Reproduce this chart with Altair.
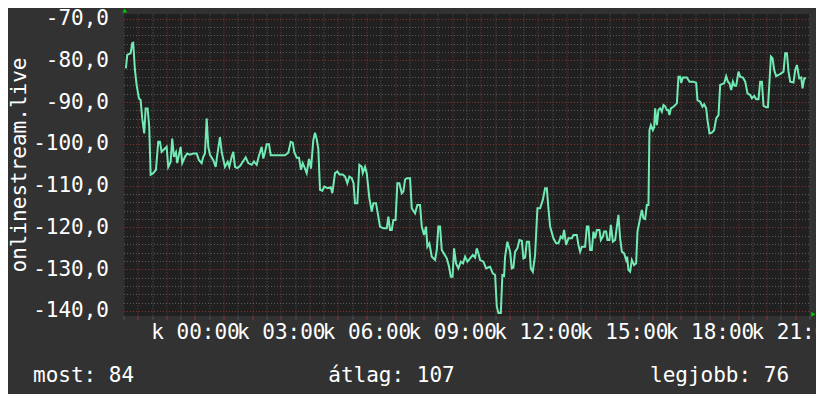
import altair as alt
import pandas as pd

# time of day in hours (00:00 = 0, negative = previous evening)
hours = [
    -2.415, -2.370, -2.251, -2.195, -2.160, -2.100, -2.041, -1.960, -1.901, -1.845,
    -1.775, -1.726, -1.656, -1.600, -1.551, -1.460, -1.365, -1.285, -1.225, -1.166,
    -1.110, -0.991, -0.935, -0.851, -0.795, -0.735, -0.665, -0.620, -0.501, -0.445,
    -0.350, -0.270, -0.175, -0.060, 0.060, 0.140, 0.235, 0.291, 0.350, 0.410,
    0.466, 0.525, 0.641, 0.725, 0.781, 0.875, 0.935, 1.050, 1.145, 1.201,
    1.285, 1.341, 1.400, 1.481, 1.575, 1.691, 1.775, 1.866, 1.985, 2.065,
    2.160, 2.240, 2.335, 2.391, 2.450, 2.510, 2.590, 2.650, 2.741, 2.975,
    3.150, 3.266, 3.350, 3.420, 3.476, 3.560, 3.640, 3.710, 3.770, 3.826,
    3.910, 3.990, 4.060, 4.141, 4.200, 4.260, 4.316, 4.375, 4.456, 4.526,
    4.645, 4.750, 4.806, 4.900, 4.981, 5.051, 5.170, 5.250, 5.331, 5.401,
    5.485, 5.548, 5.600, 5.681, 5.751, 5.835, 5.870, 5.950, 6.010, 6.101,
    6.185, 6.241, 6.335, 6.416, 6.475, 6.591, 6.710, 6.766, 6.825, 6.885,
    6.941, 7.018, 7.081, 7.151, 7.235, 7.291, 7.350, 7.410, 7.525, 7.585,
    7.700, 7.781, 7.875, 7.935, 8.015, 8.085, 8.131, 8.201, 8.285, 8.400,
    8.460, 8.516, 8.575, 8.635, 8.810, 8.890, 8.950, 9.013, 9.065, 9.135,
    9.216, 9.300, 9.380, 9.450, 9.531, 9.625, 9.720, 9.800, 9.860, 9.916,
    9.975, 10.091, 10.185, 10.255, 10.325, 10.420, 10.500, 10.560, 10.616, 10.700,
    10.756, 10.815, 10.850, 10.931, 11.025, 11.085, 11.141, 11.200, 11.281, 11.351,
    11.435, 11.491, 11.550, 11.610, 11.690, 11.750, 11.820, 11.900, 11.981, 12.075,
    12.170, 12.250, 12.310, 12.366, 12.425, 12.541, 12.635, 12.716, 12.800, 12.863,
    12.915, 12.985, 13.066, 13.185, 13.241, 13.360, 13.416, 13.475, 13.535, 13.650,
    13.710, 13.766, 13.825, 13.885, 13.941, 14.000, 14.060, 14.151, 14.200, 14.270,
    14.315, 14.385, 14.431, 14.501, 14.550, 14.620, 14.700, 14.760, 14.816, 14.875,
    14.935, 15.015, 15.085, 15.120, 15.166, 15.225, 15.285, 15.365, 15.435, 15.481,
    15.551, 15.635, 15.691, 15.750, 15.810, 15.866, 15.901, 15.950, 16.020, 16.065,
    16.100, 16.160, 16.216, 16.275, 16.335, 16.391, 16.450, 16.510, 16.555, 16.601,
    16.650, 16.741, 16.860, 16.916, 16.975, 17.010, 17.070, 17.210, 17.301, 17.441,
    17.535, 17.581, 17.675, 17.756, 17.815, 17.885, 17.931, 18.001, 18.085, 18.165,
    18.235, 18.316, 18.375, 18.435, 18.515, 18.585, 18.645, 18.701, 18.760, 18.820,
    18.876, 18.935, 19.016, 19.075, 19.170, 19.250, 19.331, 19.425, 19.485, 19.565,
    19.635, 19.716, 19.775, 19.835, 19.891, 19.985, 20.045, 20.090, 20.150, 20.206,
    20.265, 20.335, 20.416, 20.535, 20.591, 20.650, 20.710, 20.766, 20.825, 20.941,
    21.000, 21.060, 21.140, 21.210, 21.256, 21.315, 21.385,
]

signal = [
    -81.9, -78.7, -78.3, -75.9, -75.8, -82.3, -85.9, -89.1, -89.5, -93.9,
    -97.5, -91.5, -91.5, -95.9, -107.4, -107.0, -106.2, -99.5, -99.5, -101.9,
    -101.5, -100.7, -105.5, -104.3, -98.7, -103.1, -102.0, -104.6, -100.7, -104.6,
    -103.1, -102.3, -102.6, -102.3, -102.3, -103.9, -104.6, -103.1, -102.3, -93.9,
    -100.7, -102.6, -103.9, -105.5, -102.6, -98.4, -101.9, -105.5, -104.3, -105.5,
    -103.1, -101.9, -105.5, -105.8, -105.3, -104.1, -103.2, -104.6, -105.0, -104.2,
    -105.0, -102.8, -100.7, -103.5, -102.0, -100.1, -100.1, -102.7, -102.7, -102.7,
    -102.7, -102.1, -99.5, -99.7, -102.0, -103.3, -103.3, -106.2, -104.6, -105.5,
    -107.0, -103.6, -105.9, -99.1, -97.3, -98.9, -101.2, -111.0, -111.2, -110.2,
    -110.6, -110.4, -111.8, -107.0, -106.6, -107.3, -107.3, -107.8, -109.4, -107.8,
    -108.2, -109.4, -114.2, -114.2, -105.0, -105.5, -107.0, -105.5, -107.0, -113.0,
    -116.2, -114.2, -114.2, -117.4, -119.8, -120.2, -120.2, -117.4, -120.6, -120.6,
    -118.2, -118.2, -109.4, -109.4, -111.8, -111.4, -108.6, -108.2, -108.2, -115.4,
    -116.6, -114.6, -114.6, -119.8, -121.8, -119.8, -124.6, -123.8, -127.0, -127.8,
    -125.4, -119.8, -119.8, -125.4, -127.4, -129.4, -131.8, -131.8, -125.0, -128.6,
    -129.8, -128.2, -128.6, -127.0, -128.2, -127.4, -126.6, -127.2, -125.0, -126.2,
    -127.8, -128.2, -129.8, -129.6, -129.4, -131.0, -131.4, -138.9, -140.5, -140.5,
    -131.4, -131.6, -127.0, -123.4, -125.8, -129.8, -129.6, -125.8, -125.0, -123.0,
    -123.2, -127.4, -127.2, -123.4, -123.4, -129.8, -130.6, -126.6, -115.4, -115.4,
    -113.4, -110.6, -110.6, -115.4, -119.8, -122.6, -123.8, -123.8, -122.2, -122.6,
    -120.6, -124.2, -122.6, -122.6, -121.8, -121.8, -124.2, -125.8, -124.6, -124.6,
    -119.8, -119.8, -125.4, -125.4, -121.0, -122.6, -120.6, -120.6, -123.0, -122.2,
    -121.0, -121.0, -123.0, -123.0, -119.4, -123.4, -123.0, -119.8, -117.0, -122.6,
    -125.8, -126.2, -127.8, -127.0, -130.2, -130.6, -127.8, -129.0, -128.6, -121.0,
    -118.6, -115.8, -117.8, -118.0, -114.6, -114.6, -96.7, -95.5, -96.7, -96.0,
    -91.5, -95.5, -91.9, -91.5, -92.3, -90.7, -91.0, -91.9, -91.9, -93.1,
    -91.5, -91.1, -90.3, -83.9, -83.9, -85.4, -84.1, -84.1, -85.1, -85.1,
    -85.4, -89.5, -89.9, -91.1, -90.5, -91.5, -94.3, -97.5, -97.3, -96.7,
    -93.9, -93.1, -85.9, -85.7, -85.5, -83.8, -85.1, -85.5, -87.1, -85.1,
    -86.1, -86.1, -82.7, -83.9, -84.1, -85.1, -87.9, -88.3, -89.1, -88.5,
    -89.3, -89.3, -85.1, -85.1, -90.9, -91.2, -91.2, -86.3, -79.1, -79.5,
    -82.3, -83.8, -83.5, -83.0, -82.7, -78.3, -78.3, -82.7, -85.1, -85.3,
    -82.3, -81.1, -84.3, -84.1, -86.7, -84.3, -84.3,
]

summary_labels = ["most:", "átlag:", "legjobb:"]
summary_values = [84, 107, 76]

axis_title = "onlinestream.live"

y_grid_values = list(range(-140, -69, 2))
x_grid_values = [v / 2 for v in range(-5, 44)]

df = pd.DataFrame({"h": hours, "v": signal})

FONT = "DejaVu Sans Mono"
MAJOR = "#8a3030"
MINOR = "#5a5a5a"

x_axis = alt.Axis(
    values=x_grid_values,
    labelExpr="datum.value % 3 === 0 && datum.value >= 0 ? 'k ' + (datum.value < 10 ? '0' : '') + datum.value + ':00' : ''",
    labelFont=FONT, labelFontSize=21, labelColor="#ffffff",
    labelOverlap=False, labelFlush=False, labelBound=False,
    labelBaseline="alphabetic", labelPadding=19,
    domain=False,
    tickSize=3,
    tickColor={"condition": {"test": "datum.value % 1 === 0", "value": "#a03838"}, "value": MINOR},
    grid=True, gridDash=[1, 2], gridWidth=1,
    gridColor={"condition": {"test": "datum.value % 1 === 0", "value": MAJOR}, "value": MINOR},
    title=None,
)

y_axis = alt.Axis(
    values=y_grid_values,
    labelExpr="datum.value % 10 === 0 ? (datum.value < 0 ? '-' : '') + abs(datum.value) + ',0' : ''",
    labelFont=FONT, labelFontSize=21, labelColor="#ffffff",
    labelOverlap=False, labelFlush=False, labelBound=False,
    labelAlign="right", labelBaseline="middle", labelPadding=15,
    domain=False, ticks=False,
    grid=True, gridDash=[1, 2], gridWidth=1,
    gridColor={"condition": {"test": "datum.value % 10 === 0", "value": MAJOR}, "value": MINOR},
    title=None,
)

line = alt.Chart(df).mark_line(color="#72eab4", strokeWidth=2, clip=True).encode(
    x=alt.X("h:Q", scale=alt.Scale(domain=[-2.5, 21.5], nice=False, zero=False), axis=x_axis),
    y=alt.Y("v:Q", scale=alt.Scale(domain=[-141.2, -68.9], nice=False, zero=False), axis=y_axis),
)

sdf = pd.DataFrame({
    "t": [f"{l} {v}" for l, v in zip(summary_labels, summary_values)],
    "px": [-90.5, 204.8, 526.5],
})
summary = alt.Chart(sdf).mark_text(
    font=FONT, fontSize=21, color="#ffffff", align="left", baseline="alphabetic"
).encode(
    text="t:N",
    x=alt.X("px:Q", scale=None),
    y=alt.value(367.7),
)

title = alt.Chart(pd.DataFrame({"t": [axis_title]})).mark_text(
    font=FONT, fontSize=21, color="#ffffff", angle=270, align="center", baseline="alphabetic"
).encode(text="t:N", x=alt.value(-98), y=alt.value(151))

arrow_up = alt.Chart(pd.DataFrame({"a": [0]})).mark_point(
    shape="triangle-up", filled=True, color="#00d000", size=22, opacity=1
).encode(x=alt.value(1.2), y=alt.value(-3.5))

arrow_right = alt.Chart(pd.DataFrame({"a": [0]})).mark_point(
    shape="triangle-right", filled=True, color="#00d000", size=22, opacity=1
).encode(x=alt.value(689.8), y=alt.value(300.3))

chart = alt.layer(line, summary, title, arrow_up, arrow_right).properties(
    width=686, height=302,
    padding={"left": 115.5, "top": 6, "right": 6.5, "bottom": 78},
    autosize=alt.AutoSizeParams(type="none"),
    background="#323232",
).configure_view(fill="#202020", stroke=None)

chart.save("out.html", embed_options={"renderer": "svg", "actions": False})
